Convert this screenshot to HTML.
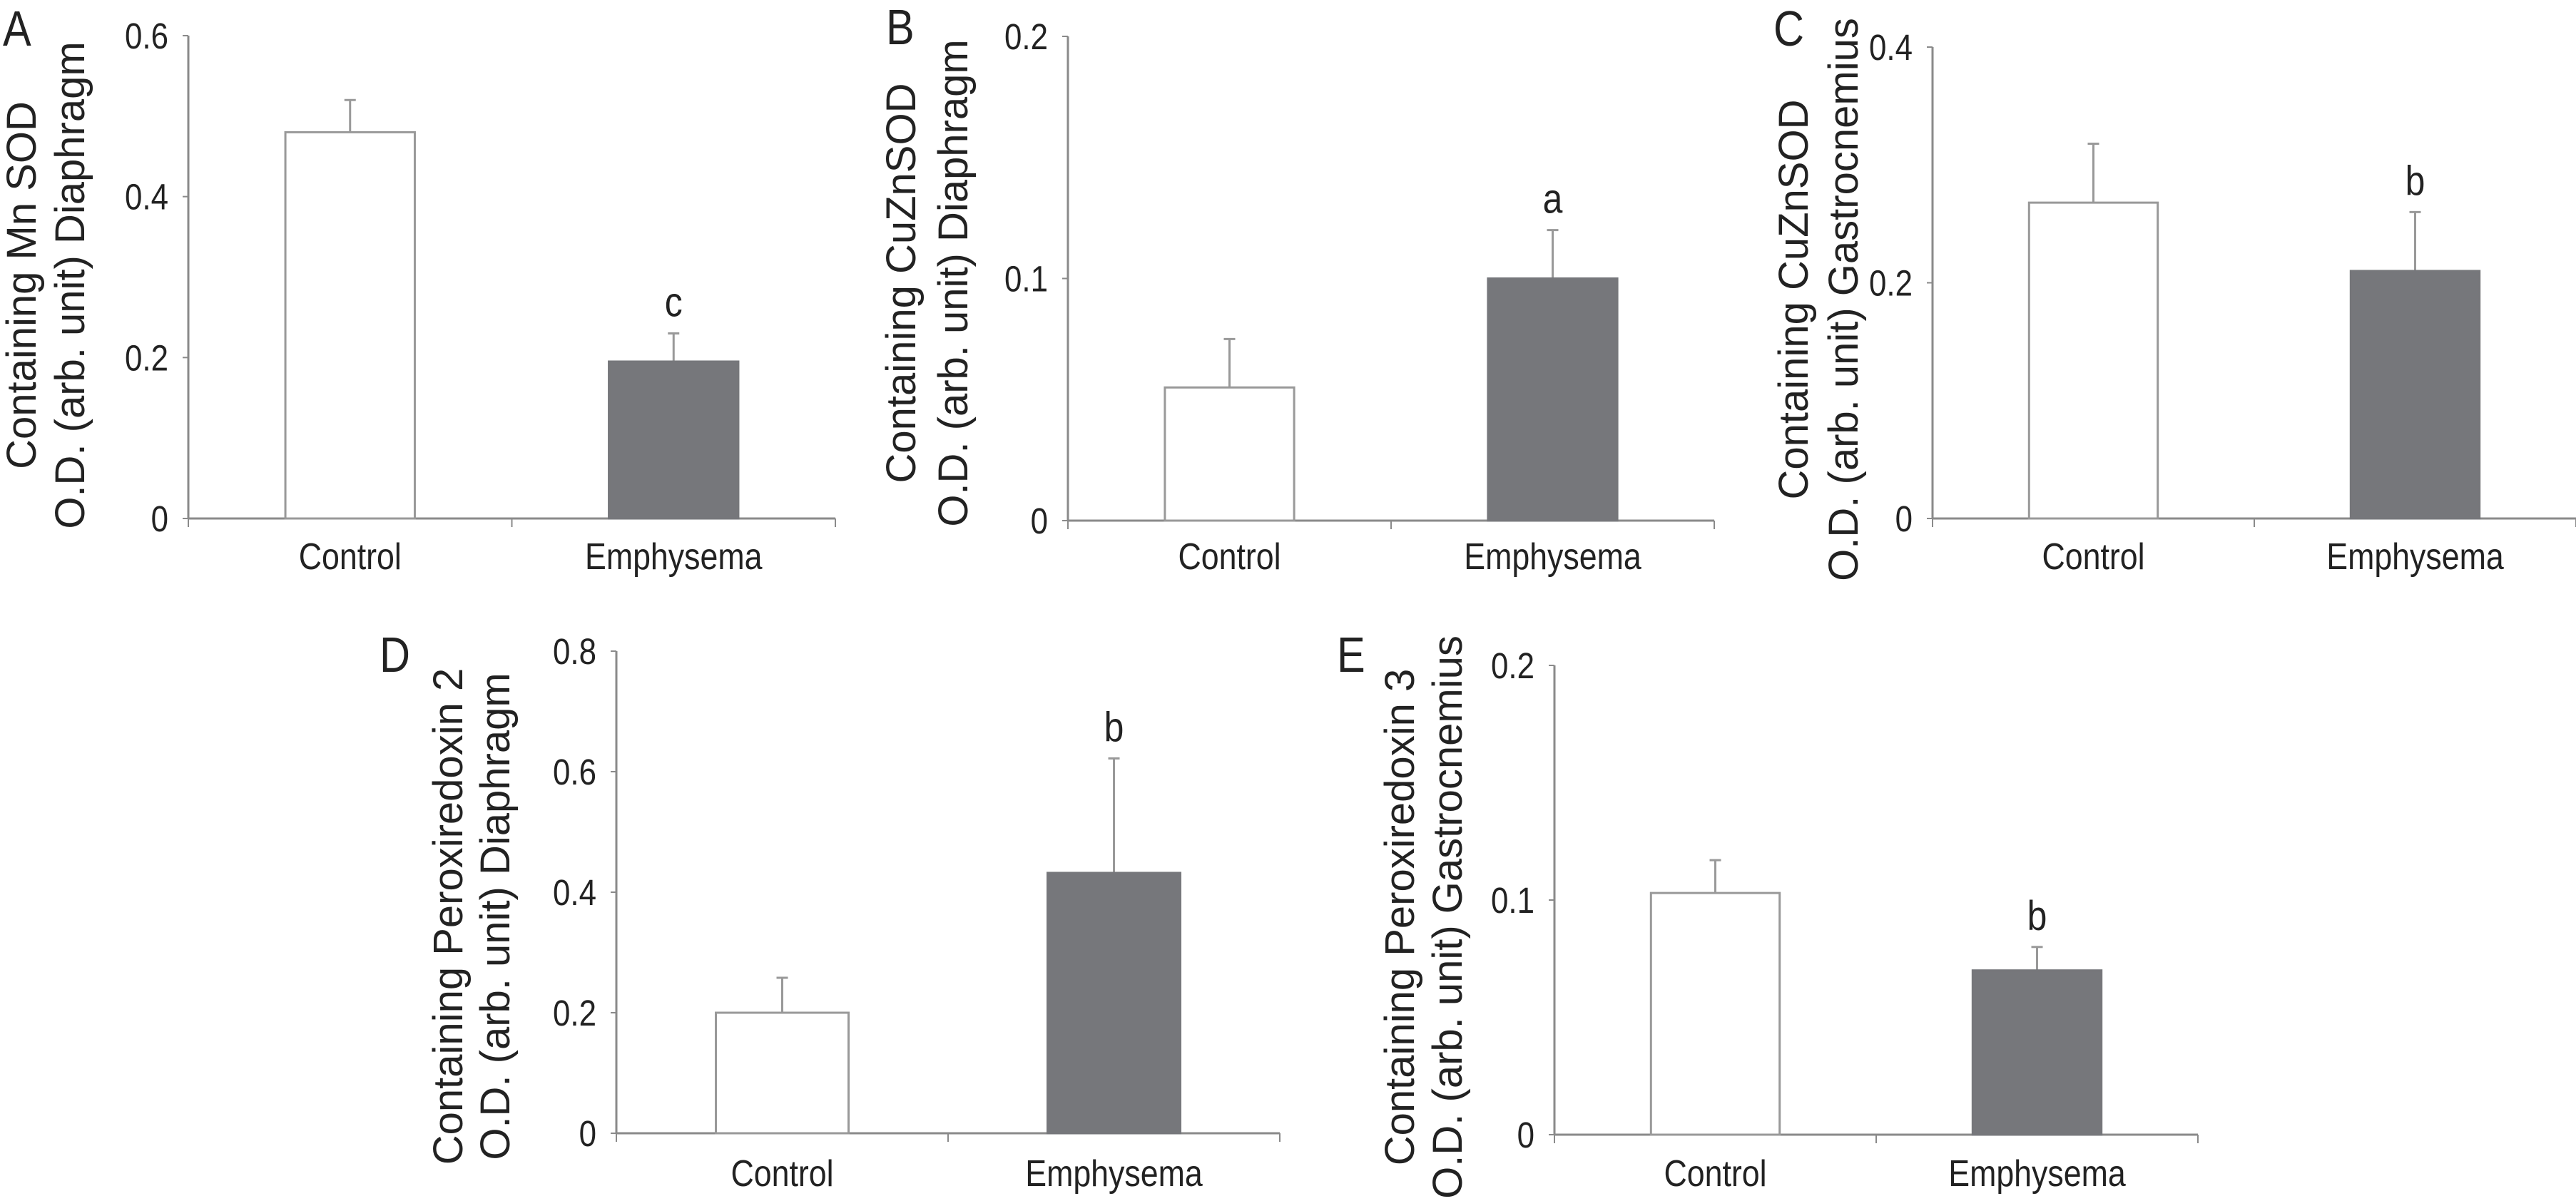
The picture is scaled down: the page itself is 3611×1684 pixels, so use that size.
<!DOCTYPE html>
<html><head><meta charset="utf-8"><style>
html,body{margin:0;padding:0;background:#fff;}
svg{display:block;font-family:"Liberation Sans",sans-serif;}
</style></head><body>
<svg id="fig" width="3611" height="1684" viewBox="0 0 3611 1684" xmlns="http://www.w3.org/2000/svg"></svg>
<script>
const panelLetters = ["A","B","C","D","E"];
const categories = ["Control","Emphysema"];
const controlMeans = [0.48, 0.055, 0.268, 0.2, 0.103];
const controlErrTops = [0.52, 0.075, 0.318, 0.258, 0.117];
const emphMeans = [0.195, 0.1, 0.21, 0.432, 0.07];
const emphErrTops = [0.23, 0.12, 0.26, 0.622, 0.08];
const sigLetters = ["c","a","b","b","b"];
const yMaxes = [0.6, 0.2, 0.4, 0.8, 0.2];
const tickLabelsA = ["0","0.2","0.4","0.6"];
const tickLabelsB = ["0","0.1","0.2"];
const tickLabelsC = ["0","0.2","0.4"];
const tickLabelsD = ["0","0.2","0.4","0.6","0.8"];
const tickLabelsE = ["0","0.1","0.2"];
const tickLabels = [tickLabelsA,tickLabelsB,tickLabelsC,tickLabelsD,tickLabelsE];
const titleLine1 = ["Containing Mn SOD","Containing CuZnSOD","Containing CuZnSOD","Containing Peroxiredoxin 2","Containing Peroxiredoxin 3"];
const titleLine2 = ["O.D. (arb. unit) Diaphragm","O.D. (arb. unit) Diaphragm","O.D. (arb. unit) Gastrocnemius","O.D. (arb. unit) Diaphragm","O.D. (arb. unit) Gastrocnemius"];

// layout (pixels)
const layout = [
 {x0:264,w:907,yTop:50,y0:727,catY:798,t1:50,t2:118,tc:400,lx:4,ly:64},
 {x0:1497,w:906,yTop:51,y0:730,catY:798,t1:1283,t2:1356,tc:397,lx:1242,ly:62},
 {x0:2709,w:902,yTop:66,y0:727,catY:798,t1:2534,t2:2604,tc:420,lx:2486,ly:64},
 {x0:864,w:930,yTop:913,y0:1589,catY:1663,t1:648,t2:714,tc:1285,lx:532,ly:942},
 {x0:2179,w:902,yTop:933,y0:1591,catY:1663,t1:1982,t2:2049,tc:1286,lx:1874,ly:942}
];
const NS="http://www.w3.org/2000/svg";
const svg=document.getElementById("fig");
function mk(tag,attrs,parent){const e=document.createElementNS(NS,tag);for(const k in attrs)e.setAttribute(k,attrs[k]);(parent||svg).appendChild(e);return e;}
const AX="#8a8a8a";
const SX=0.86;
for(let p=0;p<5;p++){
  const L=layout[p];
  const g=mk("g",{});
  
  
  const ys=v=>L.y0-(v/yMaxes[p])*(L.y0-L.yTop);
  const xs=f=>L.x0+f*L.w;
  const lt=mk("text",{transform:`translate(${L.lx},${L.ly}) scale(0.85,1)`,"font-size":70,fill:"#222"},g);lt.textContent=panelLetters[p];
  
  
  const tg=mk("g",{},g);
  
  
  [[L.t1,titleLine1[p]],[L.t2,titleLine2[p]]].forEach(([bx,txt])=>{
    const t=mk("text",{transform:`translate(${bx},${L.tc}) rotate(-90)`,"text-anchor":"middle","font-size":58,fill:"#222"},tg);t.textContent=txt;
  });
  const ya=mk("line",{x1:L.x0,y1:L.yTop,x2:L.x0,y2:L.y0,stroke:AX,"stroke-width":3},g);
  
  
  const xa=mk("line",{x1:L.x0,y1:L.y0,x2:L.x0+L.w,y2:L.y0,stroke:AX,"stroke-width":3},g);
  
  
  [0,0.5,1].forEach(f=>mk("line",{x1:xs(f),y1:L.y0,x2:xs(f),y2:L.y0+12,stroke:AX,"stroke-width":2},g));
  tickLabels[p].forEach(lab=>{
    const v=parseFloat(lab);const y=ys(v);
    mk("line",{x1:L.x0-8,y1:y,x2:L.x0,y2:y,stroke:AX,"stroke-width":2},g);
    const t=mk("text",{transform:`translate(${L.x0-28},${y+18}) scale(${SX},1)`,"text-anchor":"end","font-size":51,fill:"#222"},g);t.textContent=lab;
    
    
  });
  const means=[controlMeans[p],emphMeans[p]], errs=[controlErrTops[p],emphErrTops[p]];
  [0.25,0.75].forEach((f,i)=>{
    const cx=xs(f), bw=L.w*0.2;
    const eb=mk("line",{x1:cx,y1:ys(errs[i]),x2:cx,y2:ys(means[i]),stroke:"#999","stroke-width":3},g);
    
    
    mk("line",{x1:cx-8,y1:ys(errs[i]),x2:cx+8,y2:ys(errs[i]),stroke:"#999","stroke-width":3},g);
    const r=mk("rect",{x:cx-bw/2,y:ys(means[i]),width:bw,height:L.y0-ys(means[i]),fill:i?"#76777b":"#fff",stroke:i?"#76777b":"#999","stroke-width":3},g);
    
    
    const c=mk("text",{transform:`translate(${cx},${L.catY}) scale(${SX},1)`,"text-anchor":"middle","font-size":52,fill:"#222"},g);c.textContent=categories[i];
    
    
    if(i===1){
      const s=mk("text",{transform:`translate(${cx},${ys(errs[i])-24}) scale(${SX},1)`,"text-anchor":"middle","font-size":58,fill:"#222"},g);s.textContent=sigLetters[p];
      
      
    }
  });
}
</script>
</body></html>
